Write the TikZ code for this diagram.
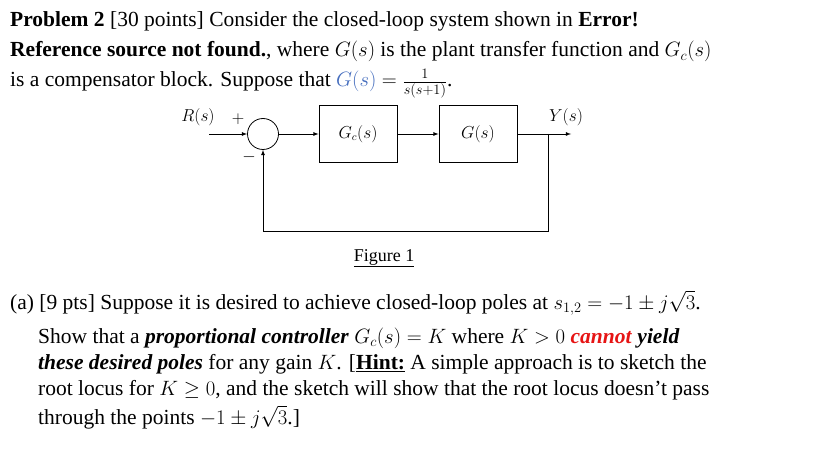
\documentclass[tikz,border=0pt]{standalone}
\usepackage{fontspec}
\setmainfont{Liberation Serif}
\usetikzlibrary{positioning}
\definecolor{gblue}{RGB}{70,110,190}
\definecolor{cred}{RGB}{230,20,20}

\begin{document}
\begin{tikzpicture}[x=1pt,y=-1pt,
	every node/.style={inner sep=0pt},
	txt/.style={anchor=base west, font=\fontsize{21.5}{24}\selectfont, text depth=0pt},
	blk/.style={draw, thick, minimum width=78pt, minimum height=57pt,
				font=\fontsize{16}{18}\selectfont},
	lbl/.style={font=\fontsize{16}{18}\selectfont}
]
	\useasboundingbox (0,0) rectangle (826,462);
	% problem statement
	\node[txt] (l1) at (10,27) {\textbf{Problem 2} [30 points] Consider the closed-loop system shown in \textbf{Error!}};
	\node[txt] (l2) at (10,57) {\textbf{Reference source not found.}, where $G(s)$ is the plant transfer function and $G_c(s)$};
	\node[txt] (l3) at (10,87) {is a compensator block. Suppose that \textcolor{gblue}{$G(s)$} $=\frac{1}{s(s+1)}$.};
	% block diagram
	\node (sum) [draw, thick, circle, minimum size=31pt] at (263,134) {};
	\node (gc) [blk] at (358,134) {$G_c(s)$};
	\node (g) [blk] at (478,134) {$G(s)$};
	\coordinate (in) at (209,134);
	\coordinate (split) at (548,134);
	\coordinate (out) at (571,134);
	\coordinate (fb) at (548,231);
	\draw[thick, -latex] (in) -- (sum);
	\draw[thick, -latex] (sum) -- (gc);
	\draw[thick, -latex] (gc) -- (g);
	\draw[thick] (g) -- (split);
	\draw[thick, -latex] (split) -- (out);
	\draw[thick, -latex] (split) -- (fb) -| (sum);
	\node (rs) [lbl] at (198,117) {$R(s)$};
	\node (plus) [lbl] at (238,119) {$+$};
	\node (minus) [lbl] at (249,157) {$-$};
	\node (ys) [lbl] at (566,117) {$Y(s)$};
	\node (fig) [lbl, font=\fontsize{18}{20}\selectfont] at (384,258) {\underline{Figure 1}};
	% part (a)
	\node[txt] (a1) at (10,309) {(a) [9 pts] Suppose it is desired to achieve closed-loop poles at $s_{1,2}=-1\pm j\sqrt{3}$.};
	\node[txt] (a2) at (38,343) {Show that a \textbf{\textit{proportional controller}} $G_c(s)=K$ where $K>0$ \textcolor{cred}{\textbf{\textit{cannot}}} \textbf{\textit{yield}}};
	\node[txt] (a3) at (38,369) {\textbf{\textit{these desired poles}} for any gain $K$. [\textbf{\underline{Hint:}} A simple approach is to sketch the};
	\node[txt] (a4) at (38,395) {root locus for $K\geq 0$, and the sketch will show that the root locus doesn't pass};
	\node[txt] (a5) at (38,424) {through the points $-1\pm j\sqrt{3}$.]};
\end{tikzpicture}
\end{document}
